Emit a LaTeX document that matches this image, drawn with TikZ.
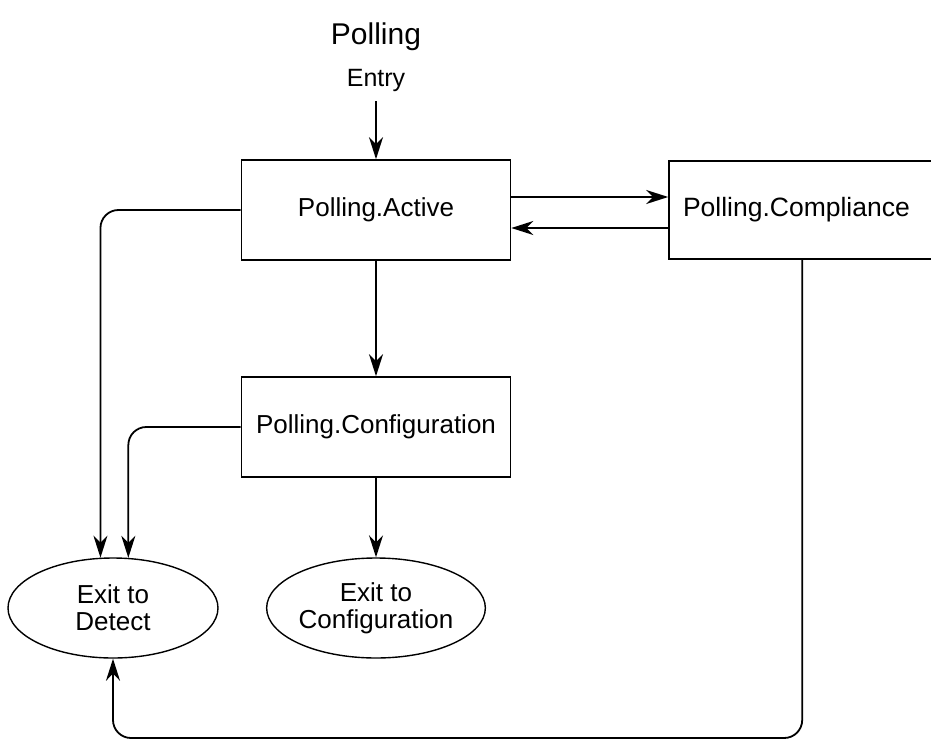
\documentclass[tikz,border=0pt]{standalone}
\usepackage{fontspec}
\setmainfont{Liberation Sans}
\usetikzlibrary{arrows.meta,shapes.geometric,calc}
\tikzset{
  box/.style={draw, line width=1.6pt, rectangle, inner sep=0pt, font=\fontsize{26}{27}\selectfont},
  oval/.style={draw, line width=1.4pt, ellipse, inner sep=0pt, minimum width=210pt, minimum height=100pt, align=center, font=\fontsize{26}{27}\selectfont},
  arr/.style={line width=1.8pt, -{Stealth[length=22pt,width=14pt,inset=7pt]}},
  lbl/.style={inner sep=0pt}
}
\begin{document}
\begin{tikzpicture}[x=1pt,y=-1pt]
\clip (0,0) rectangle (931,741);
\fill[white] (0,0) rectangle (931,741);
\node[lbl, font=\fontsize{30}{33}\selectfont] (title) at (376,37) {Polling};
\node[lbl, font=\fontsize{25}{27}\selectfont] (entry) at (376,80) {Entry};
\node[box, minimum width=269pt, minimum height=100pt] (act) at (376,210) {Polling.Active};
\node[box, minimum width=276pt, minimum height=98pt, text width=268pt, align=left] (comp) at (807,210) {\hspace*{10pt}\fontsize{26.5}{27}\selectfont Polling.Compliance};
\node[box, minimum width=269pt, minimum height=100pt] (conf) at (376,427) {Polling.Configuration};
\node[oval] (det) at (113,608) {Exit to\\Detect};
\node[oval] (xconf) at (376,608) {Exit to\\Configuration};
\coordinate (bot) at (0,738);
\coordinate (cb) at ($(comp.south west)+(134,0)$);
\draw[arr] ([yshift=-10pt]entry.south) -- (act.north);
\draw[arr] ([yshift=13pt]act.east) -- ([yshift=13pt]act.east -| comp.west);
\draw[arr] ([yshift=-18pt]comp.west) -- ([yshift=-18pt]comp.west -| act.east);
\draw[arr, rounded corners=18pt] (act.west) -| (det.104.7);
\draw[arr, rounded corners=18pt] (conf.west) -| (det.73);
\draw[arr] (act.south) -- (conf.north);
\draw[arr] (conf.south) -- (xconf.north);
\draw[arr, rounded corners=18pt] (cb) |- (det.south |- bot) -- (det.south);
\end{tikzpicture}
\end{document}
